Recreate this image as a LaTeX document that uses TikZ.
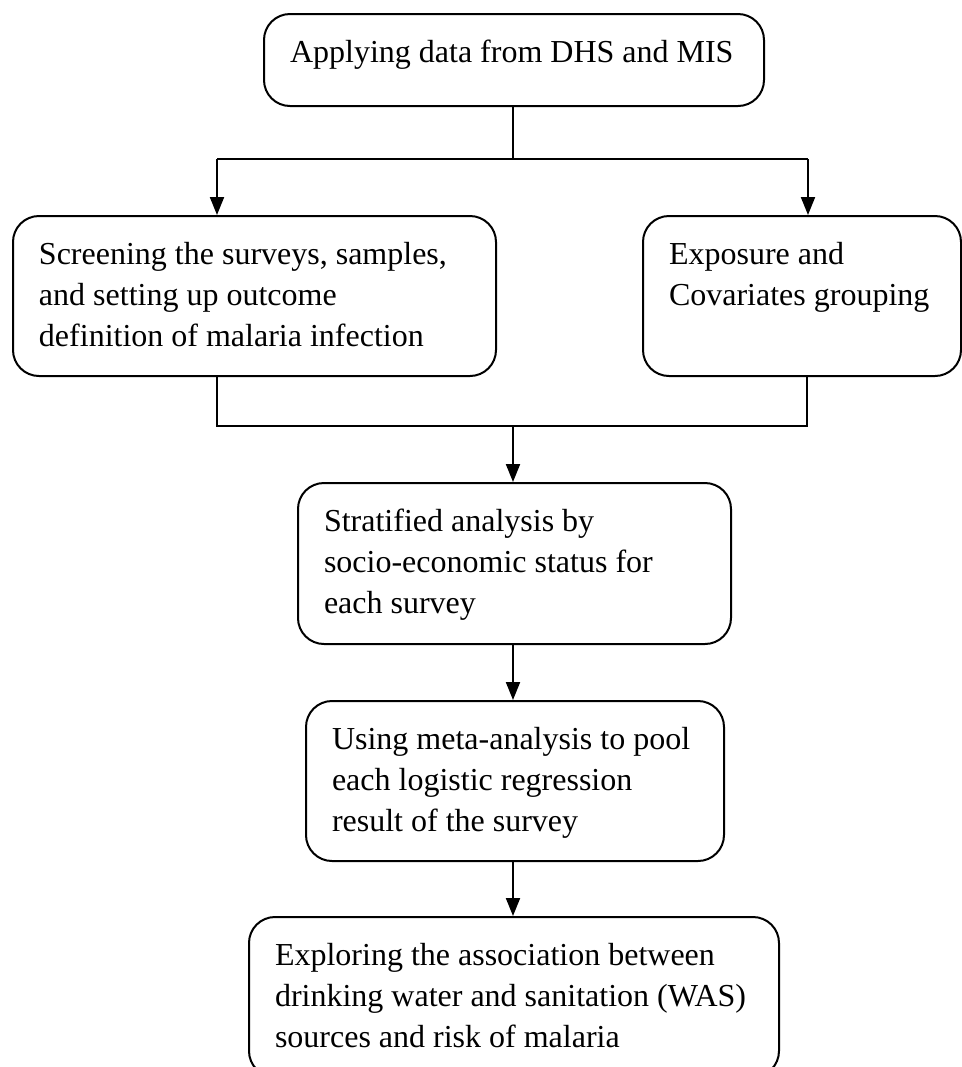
\documentclass[tikz,border=0pt]{standalone}
\usepackage{fontspec}
\setmainfont{Liberation Serif}
\usepackage{tikz}
\usetikzlibrary{calc}
\usetikzlibrary{positioning}
\usetikzlibrary{arrows.meta}
\tikzset{
  stage/.style = {draw, line width=1pt, rounded corners=13pt, anchor=north west,
    inner xsep=13pt, inner ysep=0pt, align=flush left, text height=24pt,
    font=\fontsize{16}{20.5}\selectfont},% boite arrondie, texte en haut a gauche
  wire/.style = {line width=1pt},
  flow/.style = {wire, -{Triangle[length=9pt,width=7pt]}},
}
\begin{document}
\begin{tikzpicture}[x=0.5pt,y=-0.5pt]
                    \useasboundingbox (0,0) rectangle (962,1067);

                    \node[stage, text width=224pt, text depth=22pt] (data) at (263,13) {Applying data from DHS and MIS};
                    \node[stage, text width=215.5pt, text depth=56pt] (screen) at (12,215) {Screening the surveys, samples,\\and setting up outcome\\definition of malaria infection};
                    \node[stage, text width=133pt, text depth=56pt] (expo) at (642,215) {Exposure and\\Covariates grouping};
                    \node[stage, text width=190.5pt, text depth=56.5pt] (strat) at (297,482) {Stratified analysis by\\socio-economic status for\\each survey};
                    \node[stage, text width=183pt, text depth=56pt] (meta) at (305,700) {Using meta-analysis to pool\\each logistic regression\\result of the survey};
                    \node[stage, text width=239pt, text depth=56pt] (explore) at (248,916) {Exploring the association between\\drinking water and sanitation (WAS)\\sources and risk of malaria};

                    \coordinate (fork) at (513,159);
                    \coordinate (forkl) at (217,159);
                    \coordinate (forkr) at (808,159);
                    \coordinate (joinl) at (217,426);
                    \coordinate (joinr) at (807,426);
                    \coordinate (join) at (513,426);

                    \draw[wire] (fork |- data.south) -- (fork);
                    \draw[wire] (forkl) -- (forkr);
                    \draw[flow] (forkl) -- (forkl |- screen.north);
                    \draw[flow] (forkr) -- (forkr |- expo.north);
                    \draw[wire] (screen.south -| joinl) -- (joinl) -- (joinr) -- (expo.south -| joinr);
                    \draw[flow] (join) -- (join |- strat.north);
                    \draw[flow] (join |- strat.south) -- (join |- meta.north);
                    \draw[flow] (join |- meta.south) -- (join |- explore.north);
                \end{tikzpicture}
\end{document}
